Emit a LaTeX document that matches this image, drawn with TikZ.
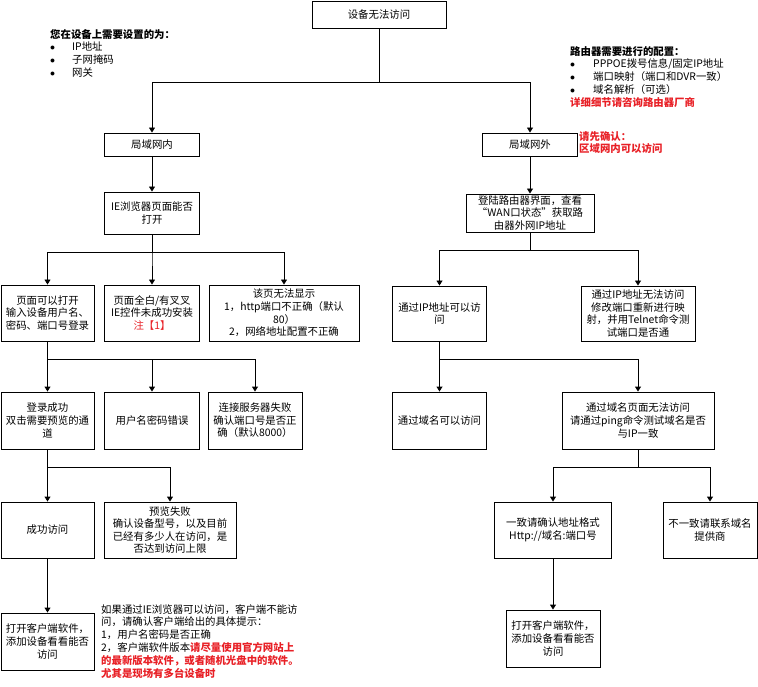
\documentclass[tikz,border=0pt]{standalone}
\usepackage{fontspec}
\usepackage{tikz}
\usetikzlibrary{arrows.meta}
\setmainfont{Noto Sans CJK SC}
\definecolor{warn}{RGB}{232, 32, 38}

\tikzset{
  box/.style={draw, line width=0.9pt, align=center, inner sep=1pt,
    font=\fontsize{10.4}{12.6}\selectfont},
  arr/.style={-{Triangle[length=5pt, width=6pt]}, line width=0.9pt},
  note/.style={anchor=north west, align=left, inner sep=0pt,
    font=\fontsize{10.4}{12.8}\selectfont}
}

\begin{document}
\begin{tikzpicture}[x=1pt, y=-1pt]

  \useasboundingbox (0, 0) rectangle (758, 687);

  \node[box, minimum width=134, minimum height=27] (top) at (379, 14.5) {设备无法访问};

  \node[box, minimum width=95, minimum height=23] (lan) at (152, 144.5) {局域网内};
  \node[box, minimum width=95, minimum height=23] (wan) at (530, 144.5) {局域网外};

  % inside the LAN
  \node[box, minimum width=95, minimum height=42] (ie) at (152, 213)
    {IE浏览器页面能否\\打开};

  \node[box, minimum width=93, minimum height=56] (open) at (47.5, 313)
    {页面可以打开\\输入设备用户名、\\密码、端口号登录};
  \node[box, minimum width=95, minimum height=56] (white) at (152, 313)
    {页面全白/有叉叉\\IE控件未成功安装\\{\color{warn}注【1】}};
  \node[box, minimum width=150, minimum height=56] (nopage) at (284, 313)
    {该页无法显示\\1，http端口不正确（默认\\80）\\2，网络地址配置不正确};

  \node[box, minimum width=93, minimum height=57] (ok) at (47.5, 420.5)
    {登录成功\\双击需要预览的通\\道};
  \node[box, minimum width=95, minimum height=57] (pwd) at (152, 420.5)
    {用户名密码错误};
  \node[box, minimum width=94, minimum height=57] (srv) at (255, 420.5)
    {连接服务器失败\\确认端口号是否正\\确（默认8000）};

  \node[box, minimum width=93, minimum height=56] (succ) at (47.5, 530) {成功访问};
  \node[box, minimum width=132, minimum height=56] (fail) at (170, 530)
    {预览失败\\确认设备型号，以及目前\\已经有多少人在访问，是\\否达到访问上限};

  \node[box, minimum width=93, minimum height=57] (client) at (47.5, 641.5)
    {打开客户端软件，\\添加设备看看能否\\访问};

  % outside the LAN
  \node[box, minimum width=128, minimum height=38] (router) at (530, 213)
    {登陆路由器界面，查看\\“WAN口状态”获取路\\由器外网IP地址};

  \node[box, minimum width=94, minimum height=55] (ipok) at (439.5, 313.5)
    {通过IP地址可以访\\问};
  \node[box, minimum width=114, minimum height=55] (ipfail) at (638, 313.5)
    {通过IP地址无法访问\\修改端口重新进行映\\射，并用Telnet命令测\\试端口是否通};

  \node[box, minimum width=94, minimum height=57] (dnok) at (439.5, 420.5)
    {通过域名可以访问};
  \node[box, minimum width=152, minimum height=57] (dnfail) at (638, 420.5)
    {通过域名页面无法访问\\请通过ping命令测试域名是否\\与IP一致};

  \node[box, minimum width=117, minimum height=56] (fmt) at (553, 530)
    {一致请确认地址格式\\Http://域名:端口号};
  \node[box, minimum width=94, minimum height=56] (isp) at (710, 530)
    {不一致请联系域名\\提供商};

  \node[box, minimum width=94, minimum height=57] (client2) at (553, 638.5)
    {打开客户端软件，\\添加设备看看能否\\访问};

  % notes
  \node[note] (need) at (50, 29)
    {\textbf{您在设备上需要设置的为：}\\
     \makebox[22pt][l]{$\bullet$}IP地址\\
     \makebox[22pt][l]{$\bullet$}子网掩码\\
     \makebox[22pt][l]{$\bullet$}网关};
  \node[note] (cfg) at (570, 46)
    {\textbf{路由器需要进行的配置：}\\
     \makebox[23pt][l]{$\bullet$}PPPOE拨号信息/固定IP地址\\
     \makebox[23pt][l]{$\bullet$}端口映射（端口和DVR一致）\\
     \makebox[23pt][l]{$\bullet$}域名解析（可选）\\
     \textbf{\color{warn}详细细节请咨询路由器厂商}};
  \node[note, text=warn, font=\fontsize{10.4}{12.8}\selectfont\bfseries] (first) at (579, 131)
    {请先确认：\\区域网内可以访问};
  \node[note] (tip) at (101, 604)
    {如果通过IE浏览器可以访问，客户端不能访\\
     问，请确认客户端给出的具体提示：\\
     1，用户名密码是否正确\\
     2，客户端软件版本\textbf{\color{warn}请尽量使用官方网站上}\\
     \textbf{\color{warn}的最新版本软件，或者随机光盘中的软件。}\\
     \textbf{\color{warn}尤其是现场有多台设备时}};

  % connectors
  \foreach \n in {lan, wan}
    \draw[arr] (top.south) -- ++(0, 54) -| (\n.north);
  \draw[arr] (lan) -- (ie);
  \foreach \n in {open, white, nopage}
    \draw[arr] (ie.south) -- ++(0, 18) -| (\n.north);
  \foreach \n in {ok, pwd, srv}
    \draw[arr] (open.south) -- ++(0, 18) -| (\n.north);
  \foreach \n in {succ, fail}
    \draw[arr] (ok.south) -- ++(0, 18) -| (\n.north);
  \draw[arr] (succ) -- (client);

  \draw[arr] (wan) -- (router);
  \foreach \n in {ipok, ipfail}
    \draw[arr] (router.south) -- ++(0, 18) -| (\n.north);
  \foreach \n in {dnok, dnfail}
    \draw[arr] (ipok.south) -- ++(0, 18) -| (\n.north);
  \foreach \n in {fmt, isp}
    \draw[arr] (dnfail.south) -- ++(0, 18) -| (\n.north);
  \draw[arr] (fmt) -- (client2);

\end{tikzpicture}
\end{document}
